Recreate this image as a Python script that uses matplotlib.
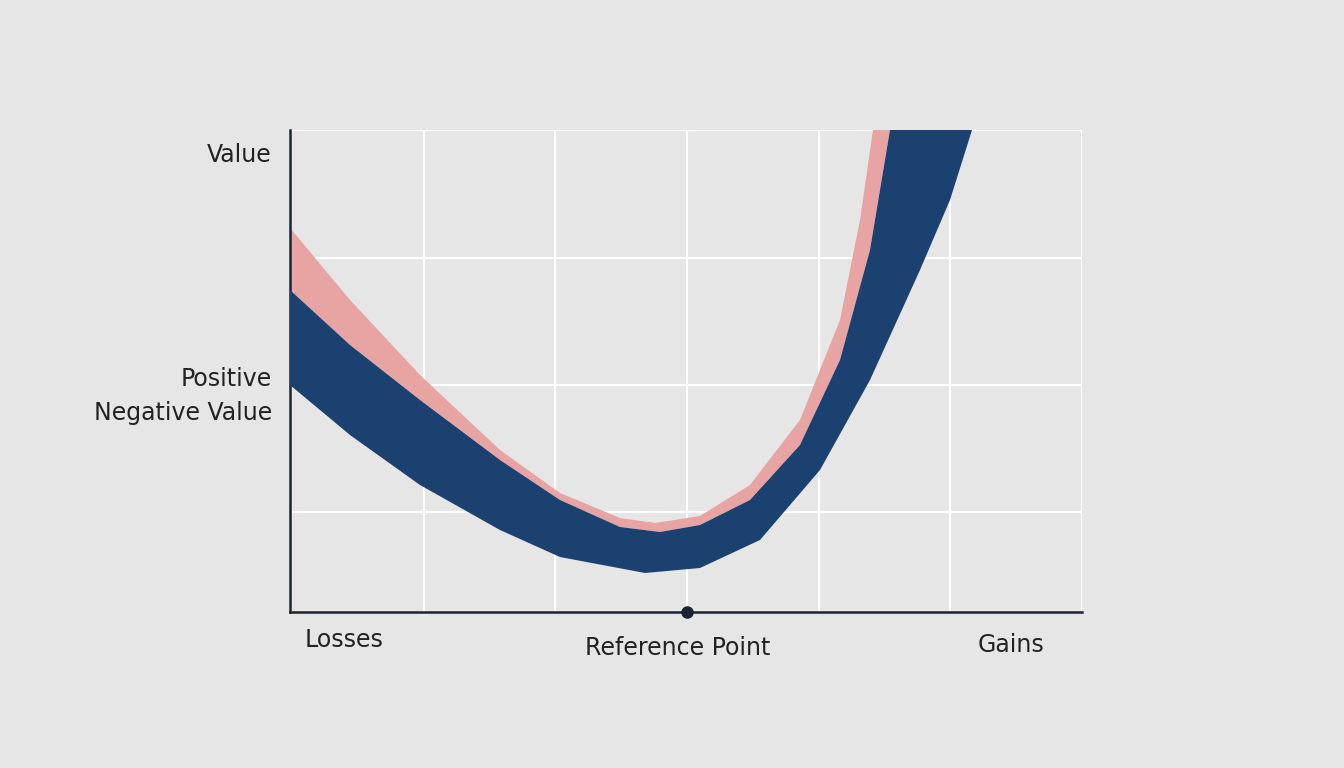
import matplotlib
matplotlib.use("Agg")
import matplotlib.pyplot as plt

# Curve edges (x, y) in chart units (x: 290..1082, y: 612 bottom .. 130 top)
navy_top_x = [290, 350, 420, 500, 560, 620, 660, 700, 750, 800, 840, 870, 890, 900]
navy_top_y = [290, 345, 400, 460, 500, 527, 532, 525, 500, 445, 360, 250, 130, 80]
navy_bot_x = [290, 350, 420, 500, 560, 645, 700, 760, 820, 870, 920, 950, 972, 985]
navy_bot_y = [385, 435, 485, 530, 557, 573, 568, 540, 470, 380, 270, 200, 130, 80]
pink_top_x = [290, 350, 420, 500, 560, 620, 655, 700, 750, 800, 840, 860, 873, 880]
pink_top_y = [228, 300, 375, 450, 493, 518, 523, 516, 485, 420, 320, 220, 130, 80]

x_ticks = [290, 424, 555, 687, 819, 950, 1082]
y_ticks = [130, 258, 385, 512]
y_labels = ["Value", "Positive\nNegative Value"]
x_labels = ["Losses", "Reference Point", "Gains"]

bg = "#e6e6e6"
fig = plt.figure(figsize=(13.44, 7.68), dpi=100, facecolor=bg)
ax = fig.add_axes([290/1344, 1-612/768, 792/1344, 482/768], facecolor=bg)
ax.set_xlim(290, 1082)
ax.set_ylim(612, 130)
for x in x_ticks[1:]:
    ax.axvline(x, color="white", lw=1.5, zorder=0)
for y in y_ticks:
    ax.axhline(y, color="white", lw=1.5, zorder=0)

ax.fill(pink_top_x + navy_top_x[::-1], pink_top_y + navy_top_y[::-1], color="#e8a3a3", lw=0, zorder=2)
ax.fill(navy_top_x + navy_bot_x[::-1], navy_top_y + navy_bot_y[::-1], color="#1a4170", lw=0, zorder=3)

for s in ["top", "right"]:
    ax.spines[s].set_visible(False)
for s in ["left", "bottom"]:
    ax.spines[s].set_color("#1b2433")
    ax.spines[s].set_linewidth(1.8)
ax.set_xticks([]); ax.set_yticks([])
ax.plot([687], [612], "o", color="#1b2433", ms=8, clip_on=False, zorder=5)

fs = 17
col = "#222222"
fig.text(272/1344, 1-155/768, y_labels[0], ha="right", va="center", fontsize=fs, color=col)
fig.text(272/1344, 1-396/768, y_labels[1], ha="right", va="center", fontsize=fs, color=col, linespacing=1.5, multialignment="right")
fig.text(344/1344, 1-640/768, x_labels[0], ha="center", va="center", fontsize=fs, color=col)
fig.text(678/1344, 1-648/768, x_labels[1], ha="center", va="center", fontsize=fs, color=col)
fig.text(1011/1344, 1-645/768, x_labels[2], ha="center", va="center", fontsize=fs, color=col)

fig.savefig("out.png", dpi=100, facecolor=bg)
